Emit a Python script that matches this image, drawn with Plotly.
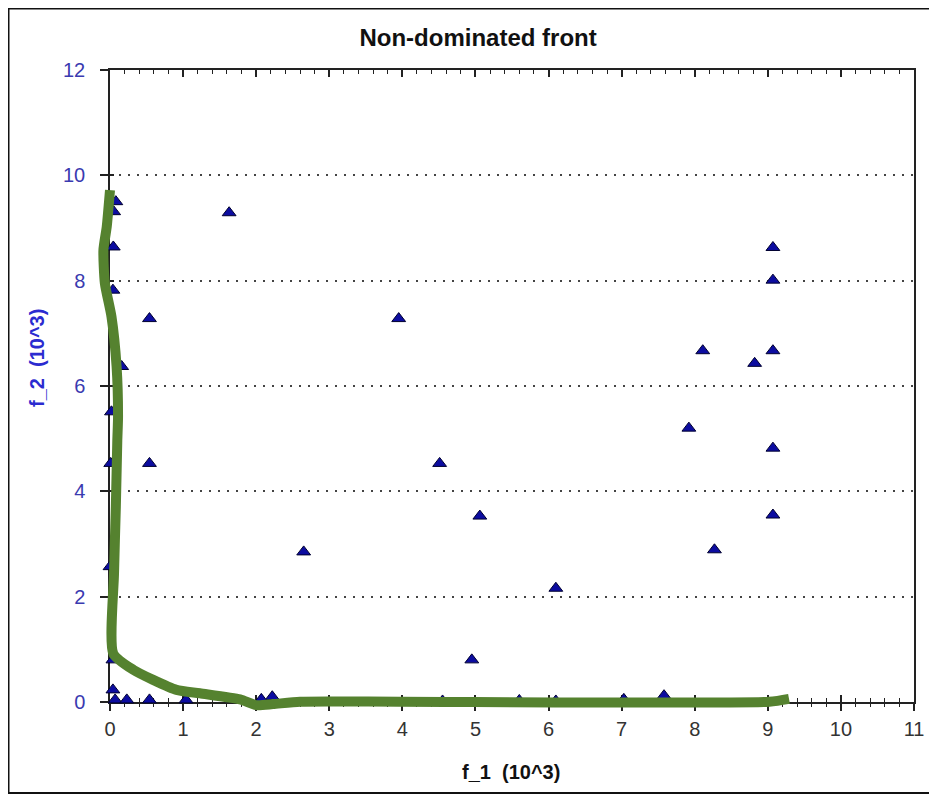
import plotly.graph_objects as go

# Scatter points (f_1, f_2) in units of 10^3
pts_x = [1.63, 0.54, 3.95, 0.54, 4.51, 5.06, 2.65, 6.10, 4.95, 2.22, 7.58,
         7.92, 8.27, 8.11, 8.82, 9.07, 9.07, 9.07, 9.07, 9.07,
         0.08, 0.05, 0.045, 0.04, 0.16, 0.02, 0.01, 0.0, 0.04, 0.04,
         0.07, 0.23, 0.54, 1.04, 2.07, 4.55, 5.6, 6.1, 7.03]
pts_y = [9.29, 7.28, 7.28, 4.53, 4.53, 3.53, 2.85, 2.16, 0.80, 0.10, 0.12,
         5.20, 2.89, 6.67, 6.43, 8.63, 8.01, 6.67, 4.82, 3.55,
         9.50, 9.31, 8.64, 7.82, 6.37, 5.51, 4.53, 2.57, 0.80, 0.23,
         0.04, 0.04, 0.04, 0.04, 0.05, 0.02, 0.03, 0.02, 0.05]

# Hand-drawn front (green curve)
front_x = [0.0, -0.045, -0.09, -0.07, 0.02, 0.09, 0.11, 0.10, 0.08, 0.055, 0.045,
           0.32, 0.59, 0.91, 1.23, 1.78, 2.0, 2.23, 2.6, 3.96, 9.02, 9.29]
front_y = [9.72, 9.02, 8.58, 7.95, 7.32, 6.37, 5.42, 4.97, 3.71, 2.44, 0.92,
           0.61, 0.42, 0.23, 0.165, 0.05, -0.06, -0.04, 0.005, 0.005, 0.005, 0.06]

x_ticks = list(range(0, 12))
y_ticks = list(range(0, 13, 2))
X_MAX, Y_MAX = 11, 12

FONT = "Liberation Sans, Arial, sans-serif"

# geometry (figure pixels)
W, H = 929, 790
ML, MR, MT, MB = 87, 23, 62, 80
PAD_L, PAD_B = 15, 16           # extra room for the hand-drawn curve
plot_w = W - ML - MR
plot_h = H - MT - MB
px_per_x = (plot_w - PAD_L) / X_MAX
px_per_y = (plot_h - PAD_B) / Y_MAX
x_dom0 = PAD_L / plot_w
y_dom0 = PAD_B / plot_h

def paper_x(fx):
    return (fx - ML) / plot_w

def paper_y(fy):
    return (H - MB - fy) / plot_h

fig = go.Figure()
fig.add_trace(go.Scatter(
    x=pts_x, y=pts_y, mode="markers", cliponaxis=False,
    marker=dict(symbol="triangle-up", size=12, color="#0c0ca0",
                line=dict(color="#000030", width=1)),
    showlegend=False, hoverinfo="skip"))
fig.add_trace(go.Scatter(x=[None], y=[None], xaxis="x2", yaxis="y2",
                         showlegend=False, hoverinfo="skip"))
fig.add_trace(go.Scatter(
    x=front_x, y=front_y, mode="lines", xaxis="x3", yaxis="y3",
    line=dict(color="#55822f", width=10, shape="spline", smoothing=0.6),
    showlegend=False, hoverinfo="skip"))

fig.update_layout(
    width=W, height=H,
    margin=dict(l=ML, r=MR, t=MT, b=MB, pad=0),
    paper_bgcolor="white", plot_bgcolor="rgba(0,0,0,0)",
    font=dict(family=FONT),
    title=dict(text="<b>Non-dominated front</b>", x=0.506, xanchor="center",
               y=1 - 30 / H, yanchor="middle",
               font=dict(size=24, color="#111111", family=FONT)),
    xaxis=dict(domain=[x_dom0, 1], anchor="y",
               range=[0, X_MAX], tickvals=x_ticks, ticks="inside", ticklen=7,
               tickwidth=1.5, tickcolor="#222", mirror="ticks",
               showline=True, linecolor="#222", linewidth=1.5,
               showgrid=False, zeroline=False,
               minor=dict(dtick=0.2, ticks="inside", ticklen=4, tickwidth=1.2,
                          tickcolor="#222", showgrid=False),
               tickfont=dict(size=20, color="#333333", family=FONT),
               ticklabelstandoff=8,
               layer="below traces"),
    xaxis2=dict(domain=[x_dom0, 1], range=[0, X_MAX], overlaying="x",
                anchor="y", side="bottom",
                tickvals=x_ticks, ticks="outside", ticklen=8, tickwidth=1.5,
                tickcolor="#222", showticklabels=False, showline=False,
                showgrid=False, zeroline=False,
                minor=dict(dtick=0.2, ticks="outside", ticklen=4,
                           tickwidth=1.2, tickcolor="#222", showgrid=False)),
    xaxis3=dict(domain=[0, 1], anchor="y3",
                range=[-PAD_L / px_per_x, X_MAX], visible=False),
    yaxis=dict(domain=[y_dom0, 1], anchor="x",
               range=[0, Y_MAX], tickvals=y_ticks, ticks="outside", ticklen=8,
               tickwidth=1.5, tickcolor="#222", mirror=True,
               showline=True, linecolor="#222", linewidth=1.5,
               showgrid=True, gridcolor="#444", gridwidth=1.5,
               griddash="2px,7px", zeroline=False,
               tickfont=dict(size=20, color="#3a3ab0", family=FONT),
               ticklabelstandoff=11,
               layer="below traces"),
    yaxis2=dict(domain=[y_dom0, 1], range=[0, Y_MAX], overlaying="y",
                anchor="x", side="left",
                tickvals=y_ticks, ticks="inside", ticklen=4, tickwidth=1.5,
                tickcolor="#222", showticklabels=False, showline=False,
                showgrid=False, zeroline=False),
    yaxis3=dict(domain=[0, 1], anchor="x3",
                range=[-PAD_B / px_per_y, Y_MAX], visible=False),
    annotations=[
        dict(text="<b>f_1  (10^3)</b>", xref="paper", yref="paper",
             x=paper_x(503), y=paper_y(764), xanchor="center", yanchor="middle",
             showarrow=False, font=dict(size=20, color="#111111", family=FONT)),
        dict(text="<b>f_2  (10^3)</b>", xref="paper", yref="paper",
             x=paper_x(29), y=paper_y(350), xanchor="center", yanchor="middle",
             textangle=-90, showarrow=False,
             font=dict(size=20, color="#2b2bd0", family=FONT)),
    ],
    shapes=[dict(type="rect", xref="paper", yref="paper",
                 x0=paper_x(0.5), x1=paper_x(923), y0=paper_y(785), y1=paper_y(0.5),
                 line=dict(color="#111", width=2), fillcolor="rgba(0,0,0,0)",
                 layer="below")],
)

fig.write_html("out.html")
